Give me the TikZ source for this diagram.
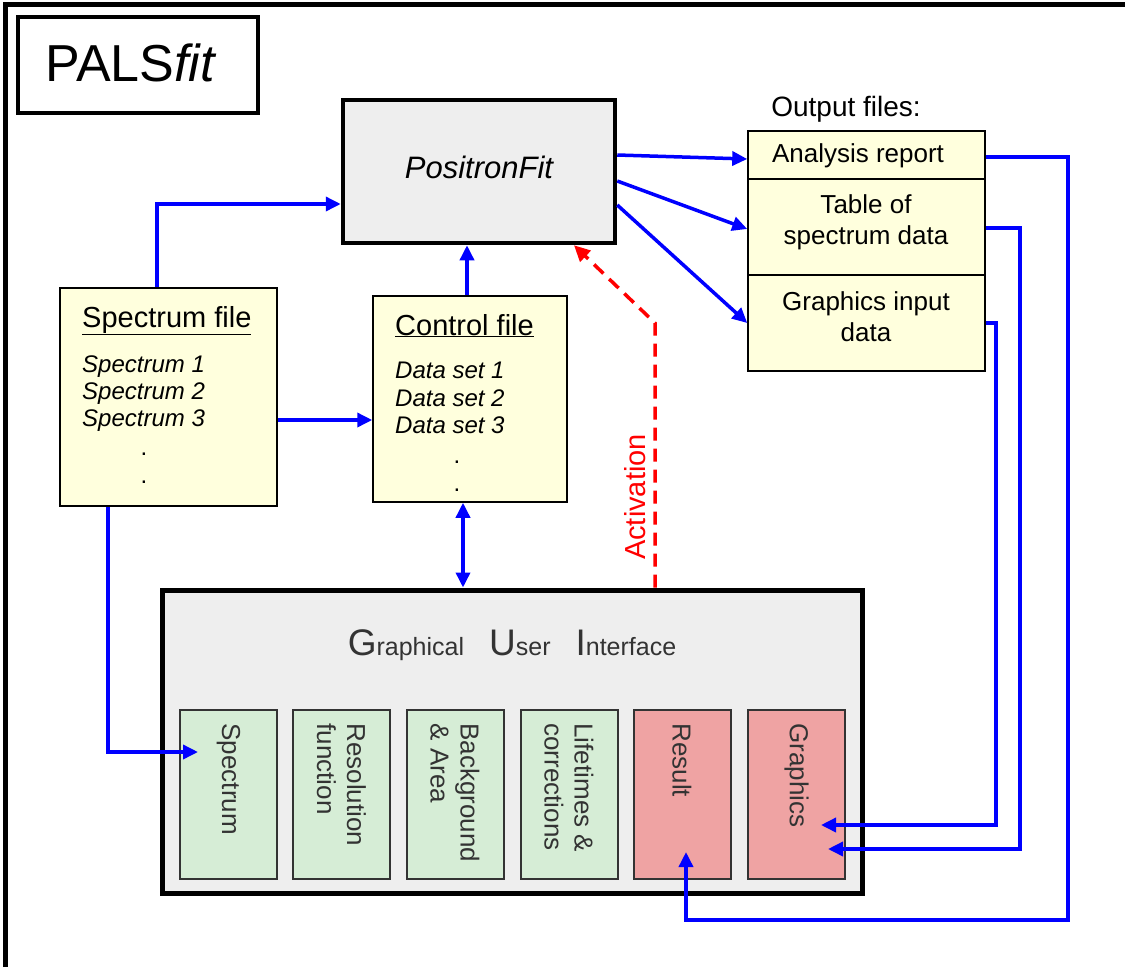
\documentclass[tikz,border=0pt]{standalone}
\usepackage{fontspec}
\setmainfont{Liberation Sans}
\usetikzlibrary{arrows.meta}

\definecolor{filebg}{RGB}{255,255,221}
\definecolor{guibg}{RGB}{238,238,238}
\definecolor{tabgreen}{RGB}{214,237,214}
\definecolor{tabred}{RGB}{239,163,163}
\definecolor{guitext}{RGB}{51,51,51}

\newcommand{\guicap}[1]{{\fontsize{37}{40}\selectfont #1}}

\tikzset{
  filebox/.style={draw=black,line width=1.5pt,fill=filebg,inner sep=0pt},
  tabbox/.style={draw=guitext,line width=2pt,minimum width=97pt,minimum height=169pt,inner sep=0pt},
  tabtext/.style={rotate=-90,anchor=west,align=left,text=guitext,font=\fontsize{26}{30}\selectfont},
  head/.style={anchor=base west,inner sep=0pt,font=\fontsize{29}{32}\selectfont},
  item/.style={anchor=base west,inner sep=0pt,font=\fontsize{24}{27}\selectfont\itshape},
  dotnode/.style={anchor=base,inner sep=0pt,font=\fontsize{24}{27}\selectfont},
  outtext/.style={align=center,font=\fontsize{26}{31}\selectfont},
  link/.style={draw=blue,line width=3.5pt,-{Triangle[length=15pt,width=14pt]}},
  twolink/.style={draw=blue,line width=3.5pt,{Triangle[length=15pt,width=14pt]}-{Triangle[length=15pt,width=14pt]}},
  trigger/.style={draw=red,line width=3.5pt,dash pattern=on 13pt off 8pt,-{Triangle[length=16pt,width=15pt]}}
}

\begin{document}
\begin{tikzpicture}[x=1pt,y=-1pt]
\useasboundingbox (0,0) rectangle (1125,967);

% frame
\draw[line width=5pt] (5,967) -- (5,4) -- (1125,4);

\node[draw,line width=3.5pt,minimum width=240pt,minimum height=96pt] (palsfit) at (138,65) {};
\node[font=\fontsize{52}{56}\selectfont] (palstext) at (131,63) {PALS\textit{fit}};

% main program
\node[draw,line width=4.5pt,fill=guibg,minimum width=272pt,minimum height=143pt] (pfit) at (479,171.5) {};
\node[font=\fontsize{31}{34}\selectfont\itshape] (pfittext) at (479,167) {PositronFit};

% input files
\node[filebox,minimum width=217pt,minimum height=218pt] (spec) at (168.5,397) {};
\node[head] (spechead) at (82,327) {\underline{Spectrum file}};
\node[item] (s1) at (82,372) {Spectrum 1};
\node[item] (s2) at (82,399) {Spectrum 2};
\node[item] (s3) at (82,426) {Spectrum 3};
\node[dotnode] (sd1) at (144,455) {.};
\node[dotnode] (sd2) at (144,483) {.};

\node[filebox,minimum width=194pt,minimum height=206pt] (ctrl) at (470,399) {};
\node[head] (ctrlhead) at (395,335) {\underline{Control file}};
\node[item] (c1) at (395,378) {Data set 1};
\node[item] (c2) at (395,406) {Data set 2};
\node[item] (c3) at (395,433) {Data set 3};
\node[dotnode] (cd1) at (457,463) {.};
\node[dotnode] (cd2) at (457,491) {.};

% output files
\node[font=\fontsize{28}{31}\selectfont] (outhead) at (846,109) {Output files:};
\node[filebox,minimum width=237pt,minimum height=48pt] (ar) at (866.5,155) {};
\node[filebox,minimum width=237pt,minimum height=96pt] (tab) at (866.5,227) {};
\node[filebox,minimum width=237pt,minimum height=96pt] (gin) at (866.5,323) {};
\node[outtext] (artext) at (858,156) {Analysis report};
\node[outtext] (tabtxt) at (866,222) {Table of\\spectrum data};
\node[outtext] (gintxt) at (866,317) {Graphics input\\data};

% GUI
\node[draw,line width=5pt,fill=guibg,minimum width=700pt,minimum height=303pt] (gui) at (512,741.5) {};
\node[text=guitext,font=\fontsize{25}{28}\selectfont] (guititle) at (512,645)
  {\guicap{G}raphical\quad\guicap{U}ser\quad\guicap{I}nterface};

\node[tabbox,fill=tabgreen] (b1) at (228.5,794.5) {};
\node[tabbox,fill=tabgreen] (b2) at (341.5,794.5) {};
\node[tabbox,fill=tabgreen] (b3) at (455,794.5) {};
\node[tabbox,fill=tabgreen] (b4) at (569,794.5) {};
\node[tabbox,fill=tabred] (b5) at (682,794.5) {};
\node[tabbox,fill=tabred] (b6) at (796.5,794.5) {};

\node[tabtext] (t1) at (228.5,720) {Spectrum};
\node[tabtext] (t2) at (341.5,720) {Resolution\\function};
\node[tabtext] (t3) at (455,720) {Background\\\& Area};
\node[tabtext] (t4) at (569,720) {Lifetimes \&\\corrections};
\node[tabtext] (t5) at (682,720) {Result};
\node[tabtext] (t6) at (796.5,720) {Graphics};

\node[rotate=90,text=red,font=\fontsize{29}{32}\selectfont] (act) at (635,497) {Activation};

% arrow ends inside the GUI tabs
\coordinate (spectip) at (198,752);
\coordinate (restip) at (686,852);
\coordinate (gtip1) at (821,825);
\coordinate (gtip2) at (828,849);

% connections
\draw[link] (spec.north -| 157,0) |- (pfit.west |- 0,204);
\draw[link] (spec.east |- 0,420) -- (ctrl.west |- 0,420);
\draw[link] (ctrl.north -| 467,0) -- (pfit.south -| 467,0);
\draw[twolink] (ctrl.south -| 463,0) -- (gui.north -| 463,0);
\draw[link] (spec.south -| 108,0) |- (spectip);

\draw[link] (pfit.east |- 0,155) -- (ar.west |- 0,159);
\draw[link] (pfit.east |- 0,181) -- (tab.west |- 0,229);
\draw[link] (pfit.east |- 0,205) -- (gin.west |- 0,323);

\draw[link] (ar.east |- 0,157) -- (1068,157) -- (1068,920) -| (restip);
\draw[link] (tab.east |- 0,228) -- (1020,228) |- (gtip2);
\draw[link] (gin.east |- 0,323) -- (996,323) |- (gtip1);

\draw[trigger] (gui.north -| 655,0) -- (655,323) -- (pfit.south -| 574,0);
\end{tikzpicture}
\end{document}
